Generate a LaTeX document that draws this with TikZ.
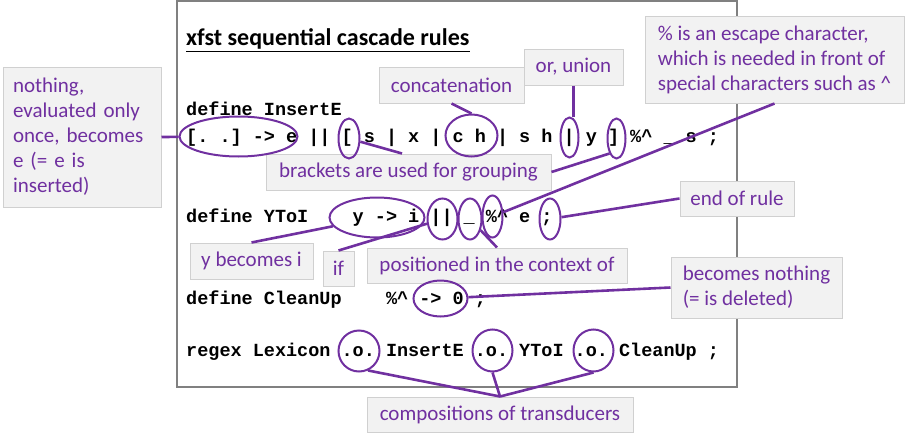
\documentclass[tikz,border=0pt]{standalone}
\usepackage{fontspec}
\setmainfont{Carlito}
\newfontfamily\codefont{Liberation Mono}
\usetikzlibrary{shapes.geometric}
\definecolor{callpurple}{HTML}{7030A0}
\definecolor{boxfill}{HTML}{F2F2F2}
\definecolor{boxline}{HTML}{D0D0D0}
\definecolor{framegray}{HTML}{808080}
\begin{document}
\begin{tikzpicture}[x=1pt,y=-1pt,
  callout/.style={draw=boxline, line width=1pt, fill=boxfill, text=callpurple,
    font=\fontsize{21}{25}\selectfont, inner sep=0pt, align=center},
  leftbox/.style={callout, align=left},
  codeline/.style={anchor=base west, inner sep=0pt, text=black,
    font=\codefont\bfseries\fontsize{18.5}{22}\selectfont},
  ring/.style={ellipse, draw=callpurple, line width=2pt, inner sep=0pt},
  link/.style={draw=callpurple, line width=2.6pt}]
\useasboundingbox (0,0) rectangle (905,439);

% frame
\draw[framegray, line width=1.2pt] (177,1) rectangle (737,387);

% title
\node[anchor=base west, inner sep=0pt, font=\bfseries\fontsize{24}{28}\selectfont] (title) at (186,45) {xfst sequential cascade rules};
\draw[line width=1.7pt] ([yshift=-6.5pt]title.base west) -- ([yshift=-6.5pt]title.base east);

% code lines
\node[codeline] (c1) at (186,115) {define~InsertE};
\node[codeline] (c2) at (186,142) {[.~.]~->~e~||~[~s~|~x~|~c~h~|~s~h~|~y~]~\%\textasciicircum~\_~s~;};
\node[codeline] (c3) at (186,222) {define~YToI~~~~y~->~i~||~\_~\%\textasciicircum~e~;};
\node[codeline] (c4) at (186,304) {define~CleanUp~~~~\%\textasciicircum~->~0~;};
\node[codeline] (c5) at (186,356) {regex~Lexicon~.o.~InsertE~.o.~YToI~.o.~CleanUp~;};

% callout boxes
\node[callout, align=left, text width=138pt, inner xsep=10pt, minimum height=140pt] (A) at (82,137)
  {nothing,\\evaluated only\\once, becomes\\e (= e is\\inserted)};
\node[callout, minimum width=145pt, minimum height=36pt] (B) at (451.5,85) {concatenation};
\node[callout, minimum width=99pt, minimum height=36pt] (C) at (573.5,67) {or, union};
\node[leftbox, minimum width=259pt, minimum height=87pt] (D) at (774.5,59.5)
  {\% is an escape character,\\which is needed in front of\\special characters such as \textasciicircum};
\node[callout, minimum width=285pt, minimum height=36pt] (E) at (408.5,172) {brackets are used for grouping};
\node[callout, minimum width=114pt, minimum height=35pt] (F) at (737,198.5) {end of rule};
\node[callout, minimum width=123pt, minimum height=36pt] (G) at (251.5,261) {y becomes i};
\node[callout, minimum width=31pt, minimum height=35pt] (H) at (338.5,268.5) {if};
\node[callout, minimum width=260pt, minimum height=35pt] (I) at (497,265.5) {positioned in the context of};
\node[leftbox, minimum width=171pt, minimum height=61pt] (J) at (756.5,287.5) {becomes nothing\\(= is deleted)};
\node[callout, minimum width=266pt, minimum height=35pt] (K) at (500,414.5) {compositions of transducers};

% rings
\node[ring, minimum width=118pt, minimum height=40pt] (e1) at (238.5,136.5) {};
\node[ring, minimum width=21pt, minimum height=40pt] (e2) at (349,138.5) {};
\node[ring, minimum width=52pt, minimum height=42pt] (e3) at (471.5,135.5) {};
\node[ring, minimum width=18pt, minimum height=40pt] (e4) at (569.5,137.5) {};
\node[ring, minimum width=18pt, minimum height=40pt] (e5) at (616.5,138.5) {};
\node[ring, minimum width=95pt, minimum height=40pt] (e6) at (377,217.5) {};
\node[ring, minimum width=30pt, minimum height=41pt] (e7) at (442.5,219) {};
\node[ring, minimum width=23pt, minimum height=41pt] (e8) at (470,219) {};
\node[ring, minimum width=20pt, minimum height=42pt] (e9) at (492.5,216.5) {};
\node[ring, minimum width=21pt, minimum height=41pt] (e10) at (550,219) {};
\node[ring, minimum width=54pt, minimum height=36pt] (e11) at (440.5,298.5) {};
\node[ring, minimum width=41pt, minimum height=41pt] (e12) at (359,351) {};
\node[ring, minimum width=40pt, minimum height=42pt] (e13) at (492.5,350.5) {};
\node[ring, minimum width=40pt, minimum height=42pt] (e14) at (593.5,350.5) {};

% connectors
\draw[link] (A.east) -- (e1);
\draw[link] (B.south) -- (e3.north);
\draw[link] (C.south) -- (C.south |- e4.north);
\draw[link] (D.south) -- (e9);
\draw[link] ([xshift=-6.5pt]E.north) -- (e2);
\draw[link] (E.east) -- (e5.245);
\draw[link] (F.west) -- (e10);
\draw[link] (G.north) -- (e6);
\draw[link] (H.north) -- (e7);
\draw[link] (I.north) -- (e8);
\draw[link] (J.west) -- (e11);
\draw[link] (K.north) -- (e12.-65);
\draw[link] (K.north) -- (e13.south);
\draw[link] (K.north) -- (e14.south);
\end{tikzpicture}
\end{document}
